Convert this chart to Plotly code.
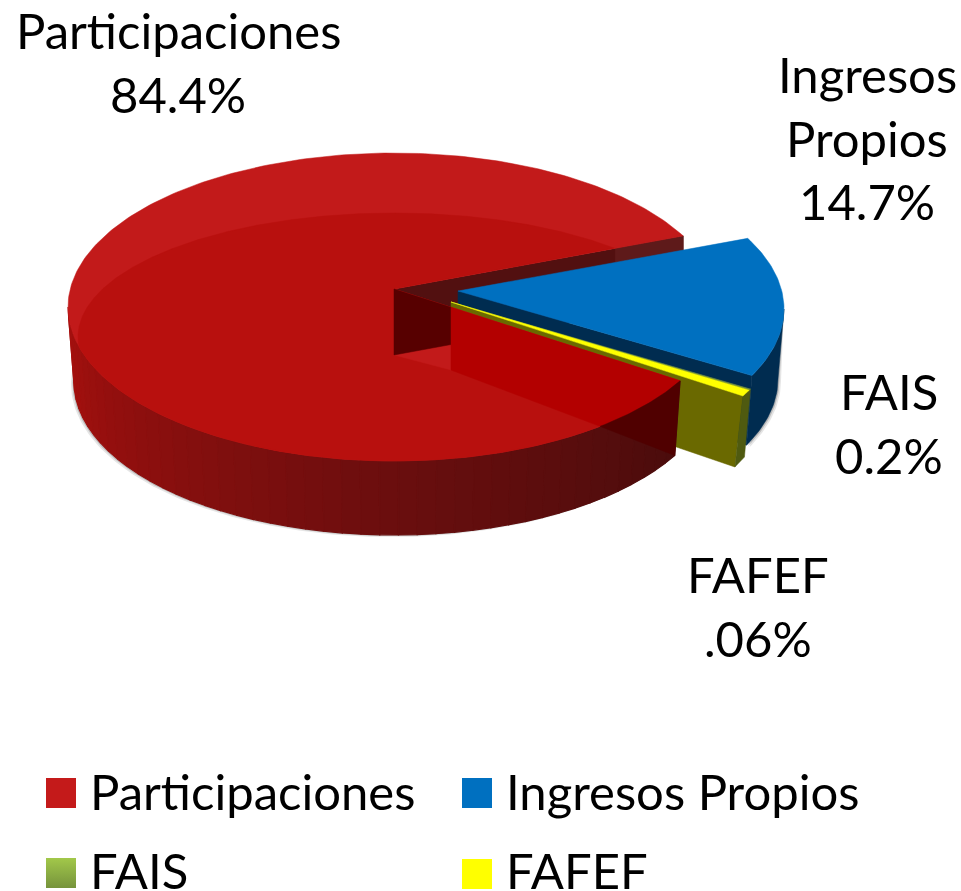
import math
import plotly.graph_objects as go

# ---- data ----
names = ["Participaciones", "Ingresos Propios", "FAIS", "FAFEF"]
values = [84.4, 14.7, 0.2, 0.06]
value_labels = ["84.4%", "14.7%", "0.2%", ".06%"]
label_lines = [["Participaciones"], ["Ingresos", "Propios"], ["FAIS"], ["FAFEF"]]
swatch_colors = ["#C41A1A", "#0070C0", "#A2C84A", "#FFFF00"]

# ---- style / projection ----
W, H = 961, 891
FONT = "Lato"
FS = 49
LINE = 63.5
RED_TOP, RED_INNER = "#C21A1A", "#B8100E"
BLUE_TOP, NAVY = "#0070C0", "#002C50"
OLIVE, OLIVE_SIDE, YELLOW, GREEN = "#6A6900", "#4F5A10", "#FFFF00", "#76933C"
START_RED = 27.5
# the two thinnest slices are drawn wider than true scale, as in the picture
THIN_SWEEP = {"FAFEF": 2.4, "FAIS": 0.5}

fig = go.Figure()


def poly(points, color, lw=0.5):
    xs = [p[0] for p in points] + [points[0][0]]
    ys = [p[1] for p in points] + [points[0][1]]
    fig.add_trace(go.Scatter(x=xs, y=ys, mode="lines", fill="toself", fillcolor=color,
                             line=dict(color=color, width=lw), hoverinfo="skip", showlegend=False))


def rim(c, rx, ry, deg):
    a = math.radians(deg)
    return (c[0] + rx * math.cos(a), c[1] - ry * math.sin(a))


def arc(c, rx, ry, a0, a1, step=1.0):
    n = max(2, int(abs(a1 - a0) / step) + 1)
    return [rim(c, rx, ry, a0 + (a1 - a0) * i / (n - 1)) for i in range(n)]


def lerp_hex(c0, c1, t):
    v0 = [int(c0[i:i + 2], 16) for i in (1, 3, 5)]
    v1 = [int(c1[i:i + 2], 16) for i in (1, 3, 5)]
    return "#%02X%02X%02X" % tuple(round(a + (b - a) * t) for a, b in zip(v0, v1))


# projected geometry of the red pie
C_TOP = (394, 307); RX, RY = 326, 154
C_BOT = (394, 382); RXB, RYB = 320, 153
C_IN = (394, 337); RXI, RYI = 316, 124
APEX = (394, 289); DEPTH = 66

red_sweep = values[0] / 100 * 360
red_end = START_RED + red_sweep
U = rim(C_TOP, RX, RY, START_RED)
L = rim(C_TOP, RX, RY, red_end)
A_D = (APEX[0], APEX[1] + DEPTH)
L_D = rim(C_BOT, RXB, RYB, red_end)
U_D = (U[0], U[1] + DEPTH)
SPLIT_X = 451


def ray_y(p0, p1, x):
    return p0[1] + (p1[1] - p0[1]) * (x - p0[0]) / (p1[0] - p0[0])


def in_outer(x, y):
    return ((x - C_TOP[0]) / RX) ** 2 + ((y - C_TOP[1]) / RY) ** 2 <= 1


# soft shadow under the disc
for off, col in [((-3, 2), "rgba(0,0,0,0.10)"), ((-1.5, 1), "rgba(0,0,0,0.18)")]:
    poly([(x + off[0], y + off[1]) for x, y in arc(C_BOT, RXB, RYB, 160, 325)], col, 0)

# back wall of the cut-out
t_split = None
for i in range(1, 200):
    t = i / 200
    x = APEX[0] + (U[0] - APEX[0]) * t
    y = APEX[1] + (U[1] - APEX[1]) * t
    if ((x - C_IN[0]) / RXI) ** 2 + ((y - C_IN[1]) / RYI) ** 2 > 1:
        t_split = t
        break
poly([APEX, U, U_D, A_D], "#521010")
sx = APEX[0] + (U[0] - APEX[0]) * t_split
sy = APEX[1] + (U[1] - APEX[1]) * t_split
poly([(sx, sy), U, U_D, (sx, sy + DEPTH)], "#5E1A1A")

# Ingresos Propios slice
blue_c = (458, 309); blue_a = (458, 291)
blue_cb = (458, 379)
blue_end = START_RED - 0.2 - values[1] / 100 * 360
b_top = arc(blue_c, RX, RY, 0, blue_end)
b_bot = arc(blue_cb, RXB, RYB, 0, blue_end)
for off, col in [((3, 2), "rgba(0,0,0,0.10)"), ((1.5, 1), "rgba(0,0,0,0.18)")]:
    poly([(x + off[0], y + off[1]) for x, y in b_bot] + [b_top[0]], col, 0)
poly(b_top + b_bot[::-1], NAVY)
poly([blue_a, b_top[-1], b_bot[-1], (blue_a[0], blue_a[1] + 69)], NAVY)
poly([blue_a] + arc(blue_c, RX, RY, START_RED - 0.2, blue_end), BLUE_TOP)

# FAIS / FAFEF sliver
y_apex = (451, 302)
y_c = (457, 322)
a_g0 = blue_end - 0.2
a_g1 = a_g0 - THIN_SWEEP["FAIS"]
a_y1 = a_g1 - THIN_SWEEP["FAFEF"]
R_g0, R_g1, R_y1 = [rim(y_c, RX, RY, a) for a in (a_g0, a_g1, a_y1)]
R_y1_b = (R_y1[0] - 8, R_y1[1] + 71)
R_g0_b = (R_g0[0] - 6, R_g0[1] + 68)
poly([y_apex, R_y1, R_y1_b, (y_apex[0], y_apex[1] + 68)], OLIVE)
poly([R_g0, R_y1, R_y1_b, R_g0_b], OLIVE_SIDE)
poly([y_apex, R_g0, R_g1], GREEN)
poly([y_apex, R_g1, R_y1], YELLOW)

# Participaciones: outer wall with shading
N = 45
for i in range(N):
    a0 = 180 + (red_end - 180) * i / N
    a1 = 180 + (red_end - 180) * (i + 1) / N
    mid = (a0 + a1) / 2
    if mid < 270:
        col = lerp_hex("#A8100E", "#6A0E0E", (mid - 180) / 90)
    else:
        col = lerp_hex("#6A0E0E", "#4A0C0C", (mid - 270) / (red_end - 270))
    poly([rim(C_TOP, RX, RY, a0), rim(C_TOP, RX, RY, a1), rim(C_BOT, RXB, RYB, a1), rim(C_BOT, RXB, RYB, a0)], col, 1.2)

# Participaciones: top face
poly([APEX] + arc(C_TOP, RX, RY, START_RED, red_end), RED_TOP)
phi_up = math.atan2(APEX[1] - U[1], U[0] - APEX[0])
phi_low = math.atan2(APEX[1] - L[1], L[0] - APEX[0])
inner = []
for i in range(0, 1441):
    x, y = rim(C_IN, RXI, RYI, i / 4)
    phi = math.atan2(APEX[1] - y, x - APEX[0])
    if phi_low <= phi <= phi_up or x > L[0]:
        continue
    if not in_outer(x, y):
        dx = (x - C_TOP[0]) / RX
        y = C_TOP[1] + RY * math.sqrt(max(0, 1 - dx * dx)) * (1 if y > C_TOP[1] else -1)
    inner.append((x, y))
poly(inner + [L, APEX], RED_INNER)

# see-through of the cut walls and of the sliver behind the red face
low_start = (SPLIT_X, 370)
P_x = None
for i in range(0, 300):
    x = SPLIT_X + i
    y = ray_y(low_start, L_D, x)
    if not in_outer(x, y):
        P_x = x
        break
theta_P = 360 - math.degrees(math.acos((P_x - C_TOP[0]) / RX))
rim_L_P = arc(C_TOP, RX, RY, red_end, theta_P, 0.5)
split_low = (SPLIT_X, ray_y(APEX, L, SPLIT_X))
split_wall = (SPLIT_X, ray_y(A_D, U_D, SPLIT_X))
poly([A_D, split_wall, low_start], RED_TOP)
poly([APEX, split_low, split_wall, A_D], "#570000")
poly([split_low] + rim_L_P + [low_start], "#B30000")
poly(rim_L_P + [L_D], "#500000")

# labels
label_pos = [(178, 30), (867, 74), (889, 391), (758, 574)]
for lines, val, (cx, y0) in zip(label_lines, value_labels, label_pos):
    for j, txt in enumerate(lines + [val]):
        fig.add_annotation(x=cx, y=y0 + j * LINE, text=txt, showarrow=False, xanchor="center", yanchor="middle",
                           font=dict(family=FONT, size=FS, color="#000000"))

# legend (drawn to match the large swatches)
leg_x = [61, 477, 61, 477]
leg_y = [793, 793, 873, 874]
leg_text_x = [88, 504, 88, 504]
leg_text_y = [791, 791, 870, 870]
for i, name in enumerate(names):
    marker = dict(symbol="square", size=30, color=swatch_colors[i], line=dict(width=0))
    if name == "FAIS":
        marker["gradient"] = dict(type="vertical", color=GREEN)
    fig.add_trace(go.Scatter(x=[leg_x[i]], y=[leg_y[i]], mode="markers", marker=marker,
                             hoverinfo="skip", showlegend=False))
    fig.add_annotation(x=leg_text_x[i], y=leg_text_y[i], text=name, showarrow=False, xanchor="left", yanchor="middle",
                       font=dict(family=FONT, size=FS, color="#000000"))

fig.update_layout(
    width=W, height=H, margin=dict(l=0, r=0, t=0, b=0),
    paper_bgcolor="white", plot_bgcolor="white", showlegend=False,
    xaxis=dict(range=[0, W], visible=False, fixedrange=True),
    yaxis=dict(range=[H, 0], visible=False, fixedrange=True),
)
fig.write_html("out.html", config=dict(displayModeBar=False),
               post_script="document.body.style.margin='0';document.body.style.overflow='hidden';")
